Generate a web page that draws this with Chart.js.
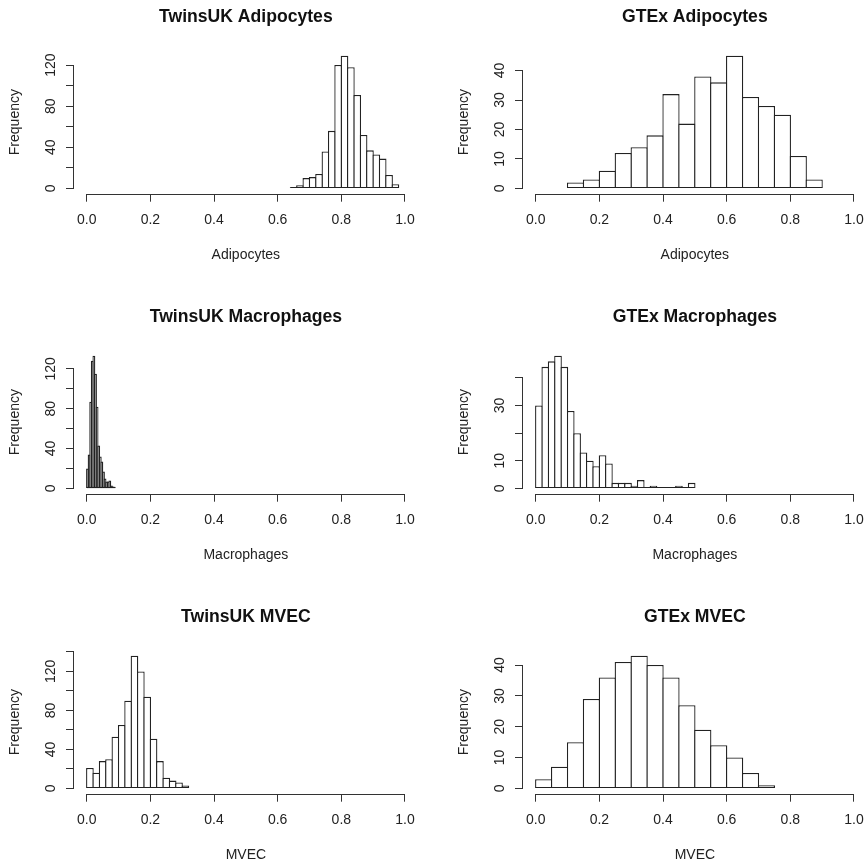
<!DOCTYPE html>
<html>
<head>
<meta charset="utf-8">
<script src="https://cdn.jsdelivr.net/npm/chart.js@4"></script>
<style>
  html, body { margin: 0; padding: 0; background: #fff; overflow: hidden; }
  body { width: 866px; height: 861px; position: relative; }
  .panel { position: absolute; width: 450px; height: 300px; }
</style>
</head>
<body>
<div class="panel" style="left:0;top:0"><canvas id="c1" width="450" height="300"></canvas></div>
<div class="panel" style="left:449px;top:0"><canvas id="c2" width="450" height="300"></canvas></div>
<div class="panel" style="left:0;top:300px"><canvas id="c3" width="450" height="300"></canvas></div>
<div class="panel" style="left:449px;top:300px"><canvas id="c4" width="450" height="300"></canvas></div>
<div class="panel" style="left:0;top:600px"><canvas id="c5" width="450" height="300"></canvas></div>
<div class="panel" style="left:449px;top:600px"><canvas id="c6" width="450" height="300"></canvas></div>
<script>
// --- data: histogram breaks and counts ---
const xTicks = [0, 0.2, 0.4, 0.6, 0.8, 1.0];

const twinsAdipBreaks = [0.64, 0.66, 0.68, 0.70, 0.72, 0.74, 0.76, 0.78, 0.80, 0.82, 0.84, 0.86, 0.88, 0.90, 0.92, 0.94, 0.96, 0.98];
const twinsAdipCounts = [1, 3, 10, 11, 14, 36, 56, 120, 129, 118, 91, 52, 37, 33, 29, 13, 4];

const gtexAdipBreaks = [0.10, 0.15, 0.20, 0.25, 0.30, 0.35, 0.40, 0.45, 0.50, 0.55, 0.60, 0.65, 0.70, 0.75, 0.80, 0.85, 0.90];
const gtexAdipCounts = [2, 3, 6, 12, 14, 18, 32, 22, 38, 36, 45, 31, 28, 25, 11, 3];

const twinsMacroBreaks = [0, 0.005, 0.01, 0.015, 0.02, 0.025, 0.03, 0.035, 0.04, 0.045, 0.05, 0.055, 0.06, 0.065, 0.07, 0.075, 0.08, 0.085, 0.09];
const twinsMacroCounts = [20, 34, 87, 128, 133, 115, 82, 43, 32, 27, 17, 10, 7, 7, 8, 3, 2, 1];

const gtexMacroBreaks = [0, 0.02, 0.04, 0.06, 0.08, 0.10, 0.12, 0.14, 0.16, 0.18, 0.20, 0.22, 0.24, 0.26, 0.28, 0.30, 0.32, 0.34, 0.36, 0.38, 0.40, 0.42, 0.44, 0.46, 0.48, 0.50];
const gtexMacroCounts = [30, 44, 46, 48, 44, 28, 20, 13, 10, 8, 12, 9, 2, 2, 2, 1, 3, 0, 1, 0, 0, 0, 1, 0, 2];

const twinsMvecBreaks = [0, 0.02, 0.04, 0.06, 0.08, 0.10, 0.12, 0.14, 0.16, 0.18, 0.20, 0.22, 0.24, 0.26, 0.28, 0.30, 0.32];
const twinsMvecCounts = [21, 16, 28, 30, 53, 65, 90, 136, 120, 94, 51, 28, 11, 8, 6, 3];

const gtexMvecBreaks = [0, 0.05, 0.10, 0.15, 0.20, 0.25, 0.30, 0.35, 0.40, 0.45, 0.50, 0.55, 0.60, 0.65, 0.70, 0.75];
const gtexMvecCounts = [3, 7, 15, 29, 36, 41, 43, 40, 36, 27, 19, 14, 10, 5, 1];

// y ticks (all marks) and the ones that carry a label
const yTicks120 = [0, 20, 40, 60, 80, 100, 120];
const yTicks140 = [0, 20, 40, 60, 80, 100, 120, 140];
const yTicks40 = [0, 10, 20, 30, 40];
const yLabels120 = [0, 40, 80, 120];
const yLabels40 = [0, 10, 20, 30, 40];
const yLabelsMacro = [0, 10, 30];

const FONT = "'Liberation Sans', Arial, Helvetica, sans-serif";
const INK = '#222';
const EDGE = 1.3; // bar outline width

// measure text so the rotated y labels sit ~24px left of the axis
const measureCtx = document.createElement('canvas').getContext('2d');
measureCtx.font = '14px ' + FONT;

// R style axis lines (only between first and last tick) + zero baseline of hist
const rAxes = {
    id: 'rAxes',
    afterDraw(chart, args, opts) {
        const { ctx, chartArea, scales: { x, y } } = chart;
        ctx.save();
        ctx.strokeStyle = '#333';
        ctx.lineWidth = 1;
        ctx.beginPath();
        // x axis
        const ay = Math.round(chartArea.bottom) + 0.5;
        ctx.moveTo(x.getPixelForValue(opts.xTicks[0]), ay);
        ctx.lineTo(x.getPixelForValue(opts.xTicks[opts.xTicks.length - 1]), ay);
        // y axis
        const ax = Math.round(chartArea.left) - 0.5;
        ctx.moveTo(ax, y.getPixelForValue(opts.yTicks[0]));
        ctx.lineTo(ax, y.getPixelForValue(opts.yTicks[opts.yTicks.length - 1]));
        ctx.stroke();
        // baseline across all bins (zero-count bins too)
        ctx.strokeStyle = INK;
        ctx.lineWidth = 1.2;
        ctx.beginPath();
        const by = Math.round(y.getPixelForValue(0)) - 0.5;
        ctx.moveTo(x.getPixelForValue(opts.breaks[0]), by);
        ctx.lineTo(x.getPixelForValue(opts.breaks[opts.breaks.length - 1]), by);
        ctx.stroke();
        ctx.restore();
    }
};

function histChart(id, title, xLabel, breaks, counts, yTicks, yLabels) {
    const points = counts.map((c, i) => ({ x: (breaks[i] + breaks[i + 1]) / 2, y: c }));
    const ymax = Math.max(...counts);
    const binW = breaks[1] - breaks[0];
    const widest = Math.max(...yLabels.map(v => measureCtx.measureText(String(v)).width));

    return new Chart(document.getElementById(id), {
        type: 'bar',
        data: {
            datasets: [{
                data: points,
                backgroundColor: '#fff',
                borderColor: INK,
                borderWidth: EDGE,
                inflateAmount: 0,
                categoryPercentage: 1,
                // widen each bar by one edge width so neighbouring borders overlap into one line
                barPercentage: (c) => {
                    const s = c.chart.scales.x;
                    if (!s) return 1;
                    const px = Math.abs(s.getPixelForValue(binW) - s.getPixelForValue(0));
                    return px > 0 ? (px + EDGE) / px : 1;
                }
            }]
        },
        options: {
            responsive: false,
            animation: false,
            devicePixelRatio: 1,
            layout: { padding: { left: 0, right: 32.3, top: 0, bottom: 0 } },
            plugins: {
                legend: { display: false },
                tooltip: { enabled: false },
                title: {
                    display: true,
                    text: title,
                    fullSize: false,
                    color: '#111',
                    font: { family: FONT, size: 17.6, weight: 'bold' },
                    padding: { top: 6.5, bottom: 22.9 }
                },
                rAxes: { xTicks: xTicks, yTicks: yTicks, breaks: breaks }
            },
            scales: {
                x: {
                    type: 'linear',
                    min: -0.04,
                    max: 1.04,
                    offset: false,
                    afterBuildTicks: s => { s.ticks = xTicks.map(v => ({ value: v })); },
                    afterFit: s => { s.height = 106.3; },
                    border: { display: false },
                    grid: { display: true, offset: false, drawOnChartArea: false, drawTicks: true, tickLength: 8, color: '#333' },
                    ticks: {
                        autoSkip: false, maxRotation: 0, padding: 10.5, color: INK,
                        font: { family: FONT, size: 14 },
                        callback: v => Number(v).toFixed(1)
                    },
                    title: {
                        display: true, text: xLabel, color: INK,
                        font: { family: FONT, size: 14 },
                        padding: { top: 0, bottom: 36.6 }
                    }
                },
                y: {
                    type: 'linear',
                    min: -0.04 * ymax,
                    max: 1.04 * ymax,
                    afterBuildTicks: s => { s.ticks = yTicks.map(v => ({ value: v })); },
                    afterFit: s => { s.width = 74; },
                    border: { display: false },
                    grid: { display: true, drawOnChartArea: false, drawTicks: true, tickLength: 8, color: '#333' },
                    ticks: {
                        autoSkip: false, minRotation: 90, maxRotation: 90, crossAlign: 'center',
                        padding: 15 - widest / 2, color: INK,
                        font: { family: FONT, size: 14 },
                        callback: v => yLabels.includes(v) ? String(v) : ''
                    },
                    title: {
                        display: true, text: 'Frequency', color: INK,
                        font: { family: FONT, size: 14 },
                        padding: { top: 6.6, bottom: 0 }
                    }
                }
            }
        },
        plugins: [rAxes]
    });
}

histChart('c1', 'TwinsUK Adipocytes', 'Adipocytes', twinsAdipBreaks, twinsAdipCounts, yTicks120, yLabels120);
histChart('c2', 'GTEx Adipocytes', 'Adipocytes', gtexAdipBreaks, gtexAdipCounts, yTicks40, yLabels40);
histChart('c3', 'TwinsUK Macrophages', 'Macrophages', twinsMacroBreaks, twinsMacroCounts, yTicks120, yLabels120);
histChart('c4', 'GTEx Macrophages', 'Macrophages', gtexMacroBreaks, gtexMacroCounts, yTicks40, yLabelsMacro);
histChart('c5', 'TwinsUK MVEC', 'MVEC', twinsMvecBreaks, twinsMvecCounts, yTicks140, yLabels120);
histChart('c6', 'GTEx MVEC', 'MVEC', gtexMvecBreaks, gtexMvecCounts, yTicks40, yLabels40);
</script>
</body>
</html>
